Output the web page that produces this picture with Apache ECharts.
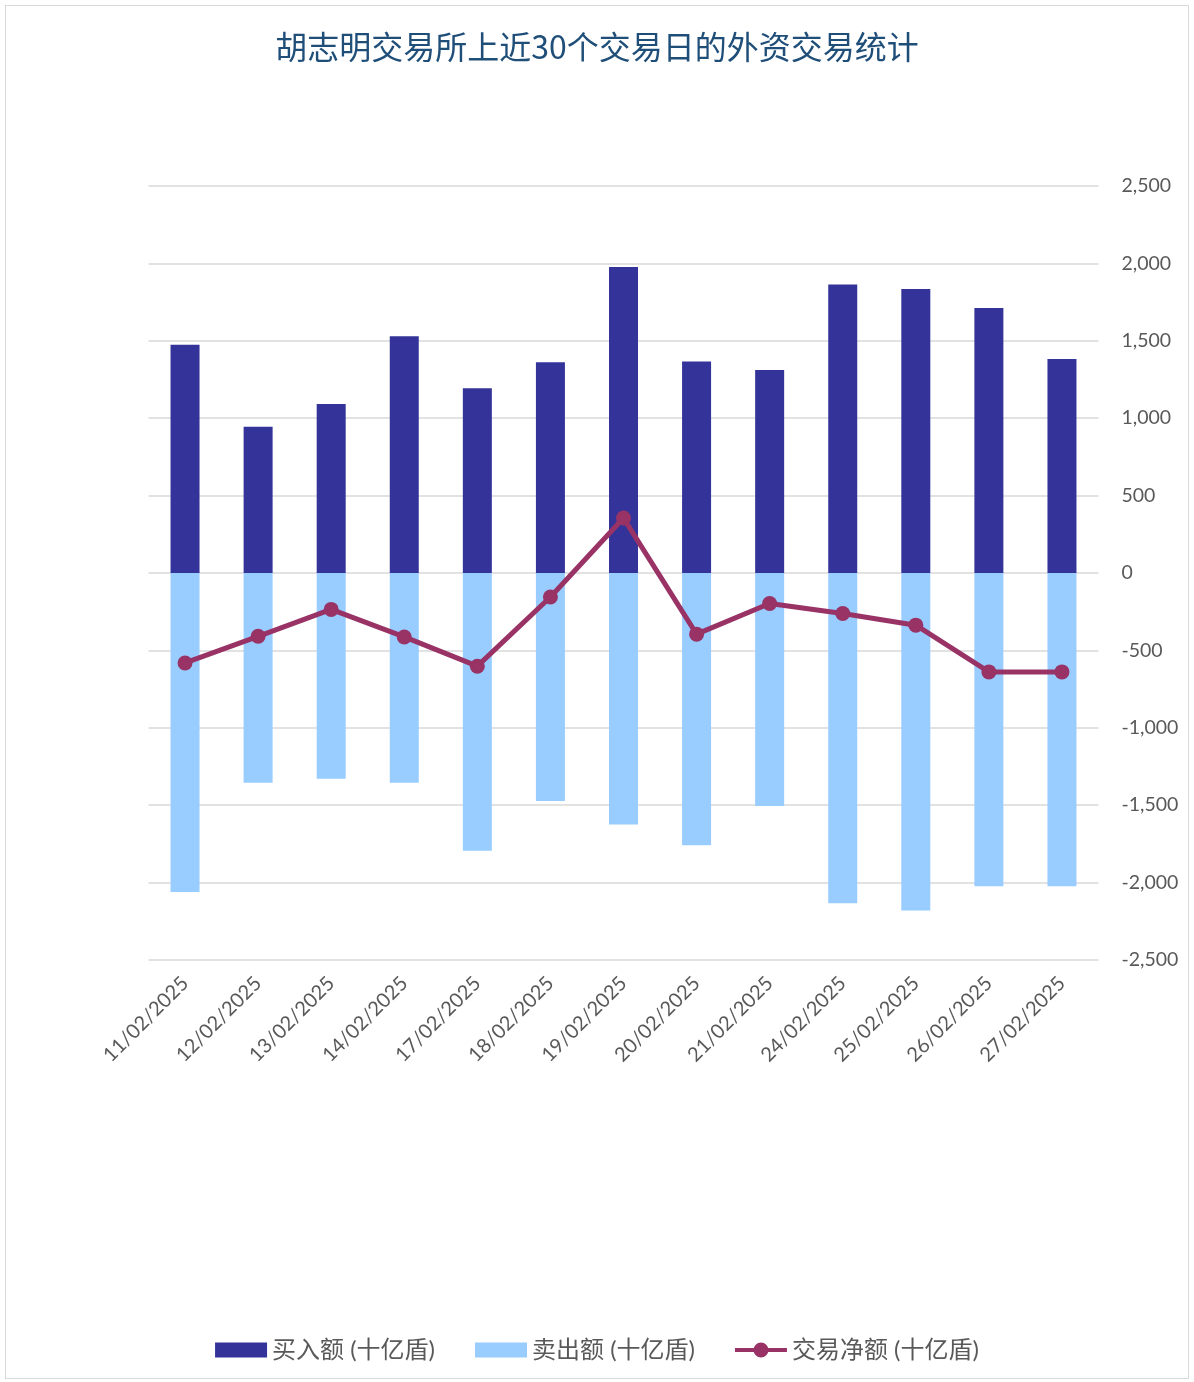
<!DOCTYPE html>
<html>
<head>
<meta charset="utf-8">
<script src="https://cdn.jsdelivr.net/npm/echarts@6/dist/echarts.min.js"></script>
<style>
  html, body { margin: 0; padding: 0; background: #fff; }
  #frame { position: absolute; left: 5px; top: 5px; width: 1182px; height: 1372px; border: 1px solid #d9d9d9; }
  #chart { width: 1194px; height: 1382px; }
</style>
</head>
<body>
<div id="frame"></div>
<div id="chart"></div>
<script>
const dates = ['11/02/2025', '12/02/2025', '13/02/2025', '14/02/2025', '17/02/2025', '18/02/2025',
  '19/02/2025', '20/02/2025', '21/02/2025', '24/02/2025', '25/02/2025', '26/02/2025', '27/02/2025'];
const buyValues = [1475, 944, 1092, 1529, 1194, 1361, 1976, 1366, 1312, 1863, 1834, 1712, 1383];
const sellValues = [-2061, -1355, -1329, -1355, -1795, -1473, -1624, -1759, -1505, -2133, -2181, -2024, -2024];
const netValues = [-581, -409, -235, -413, -602, -155, 355, -395, -197, -262, -337, -639, -639];
const yTicks = { min: -2500, max: 2500, interval: 500 };

const chart = echarts.init(document.getElementById('chart'), null, { renderer: 'canvas' });
const textFont = 'Lato, "Noto Sans CJK SC", sans-serif';

// line + dot legend marker, like the spreadsheet one
const lineIcon = 'path://M0,5.5L19,5.5L19,9.5L0,9.5Z M33,5.5L52,5.5L52,9.5L33,9.5Z ' +
  'M18.5,7.5A7.5,7.5 0 1,1 33.5,7.5A7.5,7.5 0 1,1 18.5,7.5Z';

const option = {
  backgroundColor: 'transparent',
  animation: false,
  title: {
    text: '胡志明交易所上近30个交易日的外资交易统计',
    left: 'center',
    top: 26,
    textStyle: {
      fontFamily: '"Noto Sans CJK SC", sans-serif',
      fontSize: 32,
      fontWeight: 'normal',
      color: '#1F4E79',
    },
  },
  legend: {
    bottom: 15,
    left: 'center',
    itemWidth: 52,
    itemHeight: 15,
    itemGap: 40,
    textStyle: { fontFamily: textFont, fontSize: 24, color: '#595959' },
    data: [
      { name: '买入额 (十亿盾)', icon: 'rect' },
      { name: '卖出额 (十亿盾)', icon: 'rect' },
      { name: '交易净额 (十亿盾)', icon: lineIcon },
    ],
  },
  grid: { left: 148.5, right: 95.5, top: 186, bottom: 422 },
  xAxis: {
    type: 'category',
    data: dates,
    position: 'bottom',
    axisLine: { show: false },
    axisTick: { show: false },
    axisLabel: {
      rotate: 45,
      margin: 20,
      interval: 0,
      fontFamily: textFont,
      fontSize: 20,
      color: '#595959',
    },
  },
  yAxis: {
    type: 'value',
    position: 'right',
    min: yTicks.min,
    max: yTicks.max,
    interval: yTicks.interval,
    axisLine: { show: false },
    axisTick: { show: false },
    splitLine: { lineStyle: { color: '#d9d9d9', width: 1.5 } },
    axisLabel: {
      margin: 23,
      fontFamily: textFont,
      fontSize: 19.5,
      color: '#595959',
      formatter: (v) => v.toLocaleString('en-US'),
    },
  },
  series: [
    {
      name: '买入额 (十亿盾)',
      type: 'bar',
      data: buyValues,
      barWidth: 29,
      barGap: '-100%',
      itemStyle: { color: '#333399' },
    },
    {
      name: '卖出额 (十亿盾)',
      type: 'bar',
      data: sellValues,
      barWidth: 29,
      barGap: '-100%',
      itemStyle: { color: '#99CCFF' },
    },
    {
      name: '交易净额 (十亿盾)',
      type: 'line',
      data: netValues,
      symbol: 'circle',
      symbolSize: 15,
      lineStyle: { color: '#993366', width: 5 },
      itemStyle: { color: '#993366' },
      z: 5,
    },
  ],
};

chart.setOption(option);
</script>
</body>
</html>
